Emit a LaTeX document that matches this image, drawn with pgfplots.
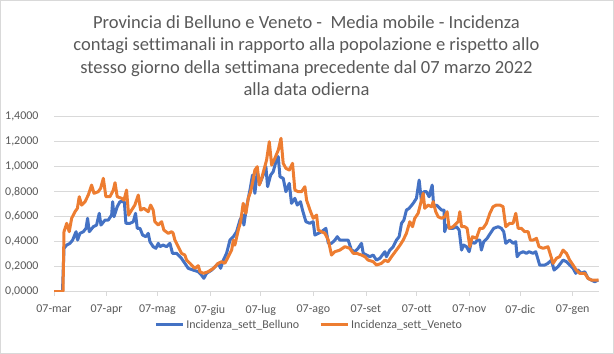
\documentclass[border=0pt]{standalone}
\usepackage{pgfplots}
\pgfplotsset{compat=1.18}
\usepackage{fontspec}
\setmainfont{Carlito}[Ligatures=NoCommon]
\definecolor{xlblue}{HTML}{4472C4}
\definecolor{xlorange}{HTML}{ED7D31}
\definecolor{xltext}{HTML}{595959}
\definecolor{xlgrid}{HTML}{D9D9D9}
\begin{document}
\begin{tikzpicture}
\useasboundingbox (0,0) rectangle (614bp,354bp);
\draw[xlgrid, line width=0.75bp] (0.4bp,0.4bp) rectangle (613.6bp,353.6bp);
\begin{scope}[every node/.style={font=\fontsize{18.6}{22}\selectfont, text=xltext, anchor=base, inner sep=0pt}]
\node at (306.5bp,325.7bp) {Provincia di Belluno e Veneto -\ \ Media mobile - Incidenza};
\node at (306.5bp,303.3bp) {contagi settimanali in rapporto alla popolazione e rispetto allo};
\node at (306.5bp,280.9bp) {stesso giorno della settimana precedente dal 07 marzo 2022};
\node at (306.5bp,258.5bp) {alla data odierna};
\end{scope}
\begin{axis}[
  at={(54bp,62.3bp)}, anchor=south west,
  scale only axis, width=545bp, height=175bp,
  xmin=0, xmax=321.5, ymin=0, ymax=1.4,
  axis x line*=bottom, axis y line*=left,
  x axis line style={xlgrid, line width=0.75bp},
  y axis line style={draw=none},
  ytick={0,0.2,0.4,0.6,0.8,1.0,1.2,1.4},
  xtick={0,31,61,92,122,153,184,214,245,275,306},
  xticklabels={07-mar,07-apr,07-mag,07-giu,07-lug,07-ago,07-set,07-ott,07-nov,07-dic,07-gen},
  ymajorgrids, grid style={xlgrid, line width=0.75bp},
  tick align=outside, major tick length=4bp,
  xtick style={xlgrid, line width=0.75bp},
  ytick style={draw=none},
  tick label style={font=\fontsize{12}{14}\selectfont, text=xltext},
  xticklabel style={yshift=-6bp},
  yticklabel style={xshift=-8bp},
  /pgf/number format/assume math mode=true,
  yticklabel={\pgfmathprintnumber[fixed, fixed zerofill, precision=4, use comma, 1000 sep={}]{\tick}},
  legend style={draw=none, fill=none, at={(0.468,-0.19)}, anchor=center,
    font=\fontsize{12}{14}\selectfont, text=xltext,
    /tikz/every even column/.append style={column sep=18bp}},
  legend columns=2,
  legend image code/.code={\draw[#1] (0bp,0bp) -- (27bp,0bp);},
  every axis plot/.append style={line width=3bp, line join=round},
]
\addplot[xlblue, mark=none] coordinates {
(0,0) (5,0) (5.9,0.347) (7.5,0.373) (9.4,0.387) (11.0,0.413) (13.0,0.48) (13.9,0.413) (15.3,0.467) (17.3,0.48) (18.9,0.507) (19.8,0.587) (20.8,0.48) (23.2,0.52) (25.1,0.533) (26.7,0.627) (27.7,0.533) (30.1,0.573) (32.0,0.573) (34.0,0.613) (34.6,0.72) (35.4,0.6) (37.3,0.68) (38.9,0.72) (41.5,0.72) (42.4,0.547) (44.8,0.547) (46.8,0.56) (48.1,0.627) (49.1,0.507) (50.7,0.507) (52.3,0.453) (54.2,0.44) (55.6,0.467) (56.6,0.4) (58.5,0.36) (60.1,0.347) (61.5,0.387) (62.5,0.36) (64.4,0.373) (66.4,0.36) (68.4,0.387) (69.9,0.307) (72.3,0.307) (75.2,0.267) (77.2,0.227) (79.2,0.187) (82.1,0.173) (85.1,0.16) (87.0,0.133) (88.4,0.107) (90.0,0.147) (93.0,0.173) (95.0,0.2) (96.9,0.227) (98.3,0.187) (99.9,0.253) (101.8,0.307) (103.8,0.413) (105.8,0.44) (107.7,0.48) (109.7,0.573) (111.3,0.613) (112.0,0.533) (113.6,0.68) (115.6,0.813) (117.1,0.933) (118.5,0.787) (119.9,0.96) (121.5,0.867) (123.4,0.933) (125.0,1.0) (126.0,0.84) (127.8,0.933) (129.3,0.96) (130.9,1.04) (132.3,1.08) (133.3,0.92) (135.2,0.907) (136.8,0.8) (138.8,0.867) (140.1,0.707) (142.1,0.747) (143.5,0.693) (145.4,0.72) (146.6,0.653) (148.6,0.56) (150.9,0.547) (152.9,0.56) (153.9,0.453) (155.9,0.467) (157.8,0.48) (160.4,0.507) (161.8,0.387) (163.7,0.387) (165.7,0.413) (167.1,0.44) (168.6,0.413) (171.6,0.413) (173.5,0.413) (175.5,0.333) (177.5,0.32) (179.4,0.347) (181.4,0.387) (182.4,0.307) (184.4,0.293) (186.3,0.28) (188.3,0.293) (190.2,0.253) (192.2,0.267) (195.2,0.32) (196.1,0.28) (198.1,0.333) (200.1,0.36) (202.0,0.413) (203.6,0.44) (205.0,0.547) (206.4,0.573) (207.9,0.653) (209.5,0.667) (211.9,0.707) (213.8,0.747) (215.4,0.893) (216.8,0.72) (218.1,0.8) (219.7,0.8) (221.3,0.76) (223.1,0.853) (224.0,0.68) (225.6,0.693) (227.6,0.667) (228.6,0.653) (230.1,0.653) (230.5,0.48) (231.5,0.533) (233.5,0.507) (235.4,0.507) (237.4,0.52) (239.0,0.493) (240.4,0.333) (241.7,0.373) (243.3,0.36) (244.9,0.32) (246.2,0.4) (248.2,0.387) (249.8,0.413) (251.2,0.413) (252.1,0.333) (253.5,0.4) (255.5,0.427) (257.4,0.467) (259.4,0.507) (262.0,0.52) (263.9,0.507) (265.3,0.48) (266.5,0.387) (268.8,0.413) (270.8,0.387) (272.4,0.4) (273.2,0.28) (274.7,0.307) (276.7,0.32) (278.7,0.307) (280.2,0.32) (282.6,0.307) (284.2,0.32) (286.5,0.213) (289.5,0.213) (291.4,0.227) (293.4,0.253) (295.0,0.173) (297.3,0.2) (300.3,0.253) (302.3,0.24) (304.2,0.213) (306.2,0.187) (307.8,0.147) (309.1,0.173) (311.1,0.147) (313.1,0.16) (315.0,0.107) (317.0,0.093) (319.0,0.08) (321.0,0.093)
};
\addlegendentry{Incidenza\_sett\_Belluno}
\addplot[xlorange, mark=none] coordinates {
(0,0) (5.3,0) (5.9,0.48) (7.5,0.547) (9.0,0.48) (10.4,0.587) (12.4,0.64) (13.8,0.667) (14.9,0.76) (16.3,0.693) (18.3,0.72) (20.2,0.773) (22.2,0.853) (23.6,0.787) (26.1,0.8) (27.5,0.827) (29.1,0.907) (30.6,0.76) (33.0,0.76) (35.0,0.813) (36.0,0.872) (37.3,0.76) (39.9,0.747) (41.3,0.733) (42.8,0.813) (44.0,0.613) (45.8,0.653) (47.7,0.693) (49.7,0.773) (51.1,0.653) (53.0,0.667) (55.6,0.64) (57.0,0.693) (58.5,0.653) (59.5,0.56) (61.5,0.533) (63.5,0.56) (64.8,0.493) (67.4,0.467) (69.4,0.48) (70.3,0.467) (71.3,0.413) (73.3,0.36) (75.2,0.307) (77.2,0.293) (78.2,0.253) (80.2,0.227) (83.1,0.187) (85.1,0.208) (86.1,0.16) (88.1,0.147) (91.0,0.16) (94.0,0.187) (96.9,0.227) (98.9,0.24) (100.8,0.227) (102.8,0.28) (104.8,0.333) (105.8,0.413) (106.7,0.373) (108.7,0.493) (110.1,0.56) (111.6,0.707) (113.2,0.627) (114.6,0.747) (116.0,0.8) (117.1,0.867) (118.5,0.973) (119.9,1.0) (121.1,0.853) (122.5,0.907) (123.8,0.973) (125.4,1.053) (127.0,1.2) (128.4,1.013) (130.3,1.067) (132.3,1.133) (133.9,1.227) (135.2,1.027) (136.8,0.987) (138.8,0.973) (140.7,1.027) (142.1,0.813) (144.1,0.8) (146.0,0.8) (148.0,0.84) (149.0,0.733) (151.0,0.653) (152.9,0.587) (154.9,0.613) (155.9,0.493) (157.8,0.48) (159.8,0.467) (161.8,0.413) (163.7,0.293) (165.7,0.32) (168.6,0.333) (171.6,0.36) (174.5,0.347) (176.5,0.307) (178.5,0.307) (181.4,0.293) (183.4,0.28) (185.3,0.253) (188.3,0.24) (190.2,0.213) (193.2,0.227) (195.2,0.253) (197.1,0.24) (199.1,0.28) (202.0,0.333) (204.0,0.37) (206.0,0.413) (207.9,0.467) (209.9,0.56) (211.5,0.52) (212.8,0.587) (214.8,0.627) (216.8,0.733) (217.8,0.787) (218.7,0.667) (220.7,0.693) (222.7,0.68) (223.7,0.72) (225.2,0.64) (226.6,0.6) (228.6,0.587) (230.5,0.6) (231.9,0.64) (233.1,0.507) (235.4,0.52) (237.4,0.547) (238.4,0.56) (239.4,0.64) (240.4,0.52) (242.3,0.52) (243.7,0.507) (245.3,0.36) (246.8,0.44) (249.2,0.427) (251.2,0.507) (253.1,0.507) (255.1,0.547) (257.1,0.627) (259.0,0.68) (261.0,0.693) (263.0,0.693) (264.9,0.68) (266.5,0.52) (268.8,0.547) (270.8,0.547) (272.4,0.627) (273.8,0.507) (275.7,0.507) (277.7,0.48) (279.7,0.48) (281.0,0.413) (282.6,0.413) (284.6,0.427) (286.1,0.36) (288.5,0.347) (291.4,0.36) (294.4,0.227) (296.4,0.267) (298.3,0.28) (300.3,0.333) (302.3,0.307) (304.2,0.253) (306.2,0.213) (308.1,0.173) (310.1,0.147) (313.1,0.147) (315.0,0.107) (317.0,0.093) (319.9,0.093) (321.3,0.093)
};
\addlegendentry{Incidenza\_sett\_Veneto}
\end{axis}
\end{tikzpicture}
\end{document}
